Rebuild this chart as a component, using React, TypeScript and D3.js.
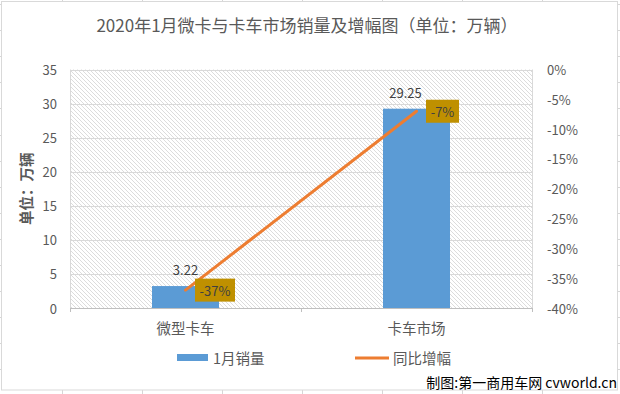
import React from "react";
import * as d3 from "d3";

const categories = ["微型卡车", "卡车市场"];
const sales = [3.22, 29.25];
const growth = [-37, -7];
const leftTicks = [0, 5, 10, 15, 20, 25, 30, 35];
const rightTicks = [0, -5, -10, -15, -20, -25, -30, -35, -40];
const seriesNames = ["1月销量", "同比增幅"];
const titleText = "2020年1月微卡与卡车市场销量及增幅图（单位：万辆）";
const yTitle = "单位：万辆";
const creditText = "制图:第一商用车网 cvworld.cn";

const W = 620, H = 394;
const FONT = "'Noto Sans CJK SC', 'Noto Sans', sans-serif";
const plot = { l: 70, r: 532, t: 69.5, b: 308 };
const BLUE = "#5B9BD5", ORANGE = "#ED7D31", GOLD = "#BF9000";
const TXT = "#595959";

export default function App() {
  const x = d3.scaleBand<string>().domain(categories).range([plot.l, plot.r]).padding(0);
  const yL = d3.scaleLinear().domain([0, 35]).range([plot.b, plot.t]);
  const yR = d3.scaleLinear().domain([-40, 0]).range([plot.b, plot.t]);
  const barW = x.bandwidth() * 0.29;
  const line = d3.line<number>()
    .x((_, i) => x(categories[i])! + x.bandwidth() / 2)
    .y((d) => yR(d));
  const labelDx = [0, -11];
  const boxW = [40, 33];

  const colLines = d3.range(0, 8).map((k) => 62 + 80 * k);
  const rowLines = d3.range(0, 16).map((k) => 4 + 26.1 * k);

  return (
    <svg width={W} height={H} style={{ position: "fixed", left: 0, top: 0, background: "#fff" }} fontFamily={FONT}>
      <defs>
        <pattern id="hatch" width="4" height="4" patternUnits="userSpaceOnUse">
          <path d="M-1,-1 L5,5 M3,-1 L5,1 M-1,3 L1,5" stroke="#dcdcdc" strokeWidth="1" />
        </pattern>
      </defs>
      {/* spreadsheet cell grid */}
      {colLines.map((cx) => (
        <line key={"c" + cx} x1={cx + 0.5} x2={cx + 0.5} y1={0} y2={H} stroke="#d6d6d6" />
      ))}
      {rowLines.map((ry) => (
        <line key={"r" + ry} x1={0} x2={W} y1={Math.round(ry) + 0.5} y2={Math.round(ry) + 0.5} stroke="#d6d6d6" />
      ))}
      {/* chart frame */}
      <rect x={1.5} y={1.5} width={616} height={388.5} fill="#fff" stroke="#d9d9d9" />
      {/* title */}
      <text x={307} y={24} textAnchor="middle" dominantBaseline="central" fontSize={17} fill={TXT}>
        {titleText}
      </text>
      {/* plot area hatch */}
      <rect x={plot.l} y={plot.t} width={plot.r - plot.l} height={plot.b - plot.t} fill="url(#hatch)" />
      {/* gridlines */}
      {leftTicks.map((t) => (
        <line key={"g" + t} x1={plot.l} x2={plot.r} y1={Math.round(yL(t)) + 0.5} y2={Math.round(yL(t)) + 0.5}
          stroke={t === 0 ? "#bfbfbf" : "#d9d9d9"} />
      ))}
      <line x1={plot.l + 0.5} x2={plot.l + 0.5} y1={plot.t} y2={plot.b} stroke="#d9d9d9" />
      <line x1={plot.r + 0.5} x2={plot.r + 0.5} y1={plot.t} y2={plot.b} stroke="#d9d9d9" />
      {/* x ticks at band boundaries */}
      {[plot.l, plot.l + x.bandwidth(), plot.r].map((tx, i) => (
        <line key={"xt" + i} x1={Math.round(tx) + 0.5} x2={Math.round(tx) + 0.5} y1={plot.b} y2={plot.b + 4} stroke="#bfbfbf" />
      ))}
      {/* left axis labels */}
      {leftTicks.map((t) => (
        <text key={"yl" + t} x={57} y={yL(t)} textAnchor="end" dominantBaseline="central" fontSize={13} fill={TXT}>
          {t}
        </text>
      ))}
      {/* right axis labels */}
      {rightTicks.map((t) => (
        <text key={"yr" + t} x={547} y={yR(t)} textAnchor="start" dominantBaseline="central" fontSize={13} fill={TXT}>
          {t + "%"}
        </text>
      ))}
      {/* y axis title */}
      <text transform={`translate(25,${(plot.t + plot.b) / 2}) rotate(-90)`} textAnchor="middle" dominantBaseline="central"
        fontSize={14.5} fontWeight="bold" fill={TXT}>
        {yTitle}
      </text>
      {/* bars */}
      {categories.map((c, i) => (
        <rect key={"b" + c} x={x(c)! + x.bandwidth() / 2 - barW / 2} y={yL(sales[i])} width={barW}
          height={yL(0) - yL(sales[i])} fill={BLUE} />
      ))}
      {/* bar value labels */}
      {categories.map((c, i) => (
        <text key={"bl" + c} x={x(c)! + x.bandwidth() / 2 + labelDx[i]} y={yL(sales[i]) - 11} textAnchor="middle"
          fontSize={13} fill="#404040">
          {sales[i].toFixed(2)}
        </text>
      ))}
      {/* line */}
      <path d={line(growth) || ""} fill="none" stroke={ORANGE} strokeWidth={3} strokeLinecap="round" />
      {/* line labels */}
      {categories.map((c, i) => {
        const px = x(c)! + x.bandwidth() / 2;
        const py = yR(growth[i]);
        return (
          <g key={"ll" + c}>
            <rect x={px + 9.5} y={py - 11.5} width={boxW[i]} height={23} fill={GOLD} />
            <text x={px + 9.5 + boxW[i] / 2} y={py} textAnchor="middle" dominantBaseline="central" fontSize={13} fill="#404040">
              {growth[i] + "%"}
            </text>
          </g>
        );
      })}
      {/* x labels */}
      {categories.map((c) => (
        <text key={"xl" + c} x={x(c)! + x.bandwidth() / 2} y={327} textAnchor="middle" dominantBaseline="central"
          fontSize={14.5} fill={TXT}>
          {c}
        </text>
      ))}
      {/* legend */}
      <rect x={177} y={354} width={31} height={7} fill={BLUE} />
      <text x={213} y={357.5} dominantBaseline="central" fontSize={14.5} fill={TXT}>{seriesNames[0]}</text>
      <line x1={355} x2={389} y1={358} y2={358} stroke={ORANGE} strokeWidth={3} />
      <text x={393} y={357.5} dominantBaseline="central" fontSize={14.5} fill={TXT}>{seriesNames[1]}</text>
      {/* credit */}
      <text x={617} y={382} textAnchor="end" dominantBaseline="central" fontSize={14} fill="#000">
        {creditText}
      </text>
    </svg>
  );
}
